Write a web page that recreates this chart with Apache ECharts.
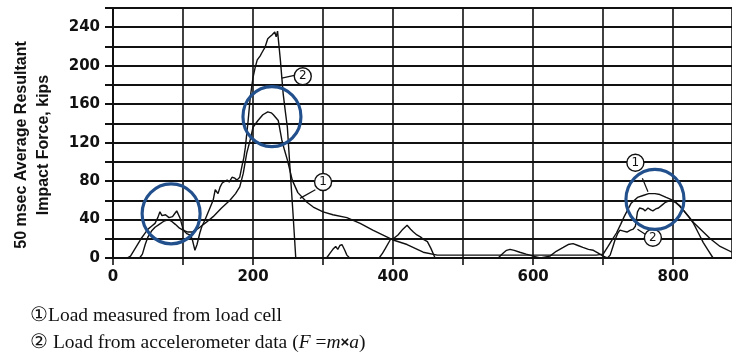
<!DOCTYPE html>
<html><head><meta charset="utf-8">
<script src="https://cdn.jsdelivr.net/npm/echarts@6/dist/echarts.min.js"></script>
<style>html,body{margin:0;padding:0;background:#fff}#c{width:732px;height:364px}</style>
</head><body><div id="c"></div>
<script>
// ---- data ----
const xTickLabels = [0, 200, 400, 600, 800];
const yTickLabels = [0, 40, 80, 120, 160, 200, 240];

// curve 1: load measured from load cell
const loadCellX = [0,20,38,42,46,50,55,60,66,72,79,84,89,95,100,107,113,118,124,133,143,155,167,175,181,186,191,196,200,207,214,221,226,229,236,241,245,249,256,264,277,286,300,314,334,353,371,399,420,443,463,500,550,600,650,690,700,707,713,719,725,730,740,749,757,765,774,781,790,800,810,820,829,839,853,867,884];
const loadCellY = [0,0,0,4,14,22,28,32,35,38,40,38,35,31,29,27,27,29,32,37,43,52,60,67,74,88,109,123,136,143,149,152,151,149,143,123,112,102,81,68,58,53,48,45,42,36,29,19,14,6,3,3,3,3,3,3,4,12,19,26,35,43,57,63,65,67,67,66,63,60,54,45,37,30,20,12,6];

// curve 2: load from accelerometer data
const accelX = [0,20,25,30,35,40,45,50,55,60,64,67,70,72,75,77,80,82,85,88,91,93,96,100,103,106,110,113,117,120,124,127,131,135,139,143,146,150,153,156,160,163,166,170,174,177,181,184,187,189,193,196,200,203,206,210,213,217,221,224,227,231,233,235,239,243,246,249,253,257,261,305,310,314,318,321,324,327,331,334,338,380,385,389,396,402,407,414,420,425,429,434,439,444,449,454,460,550,557,562,567,573,581,590,600,610,624,633,643,650,657,664,671,679,686,693,700,706,710,714,717,721,724,729,734,739,743,746,749,752,757,760,764,768,771,775,779,784,789,796,803,809,814,822,829,836,843,850,857,884];
const accelY = [0,0,2,8,14,20,25,30,33,36,42,48,44,42,45,46,42,40,43,46,49,47,41,30,27,25,24,20,8,14,26,33,39,46,53,60,71,67,74,78,80,81,79,84,83,81,84,95,105,115,143,167,188,198,206,210,214,219,228,230,232,235,230,236,206,171,153,136,91,47,0,0,5,9,12,9,13,14,8,3,0,0,5,10,19,21,24,30,34,30,27,24,22,19,17,10,0,0,5,8,9,8,6,4,2,0,2,7,11,14,15,13,11,9,8,5,2,0,3,12,19,26,29,28,27,29,30,33,48,52,51,49,52,50,49,51,52,55,58,60,58,54,50,43,36,26,16,8,0,0];

// numbered callouts on the curves
const calloutText = ['2', '1', '1', '2'];
const calloutX = [271, 300, 746, 771];
const calloutY = [189, 79, 99, 21];
const leaderFromX = [241, 267, 764, 749];
const leaderFromY = [187, 62, 69, 30];
const leaderToX = [259, 289, 756, 764];
const leaderToY = [190, 71, 83, 23];

// blue highlight rings
const ringX = [83, 227, 774];
const ringY = [46, 147, 61];

const yAxisTitle = ['50 msec Average Resultant', 'Impact Force, kips'];

// ---- chart ----
const zip = (xs, ys) => xs.map((x, i) => [x, ys[i]]);
const chart = echarts.init(document.getElementById('c'), null, {renderer: 'canvas'});
const gridColor = '#111';
const tickFont = {fontFamily: 'DejaVu Sans', fontWeight: 'bold', fontSize: 15, color: '#111'};

chart.setOption({
  animation: false,
  backgroundColor: '#fff',
  grid: {left: 113, right: 0, top: 8, bottom: 106, containLabel: false},
  xAxis: {
    type: 'value', min: 0, max: 884, interval: 100,
    axisLine: {show: true, onZero: false, lineStyle: {color: gridColor, width: 2}},
    axisTick: {show: true, length: 7, lineStyle: {color: gridColor, width: 1.6}},
    splitLine: {show: true, lineStyle: {color: gridColor, width: 1.6}},
    axisLabel: Object.assign({margin: 12, showMaxLabel: false,
      formatter: v => xTickLabels.includes(v) ? String(v) : ''}, tickFont)
  },
  yAxis: {
    type: 'value', min: 0, max: 260, interval: 20,
    axisLine: {show: true, lineStyle: {color: gridColor, width: 2}},
    axisTick: {show: true, length: 8, lineStyle: {color: gridColor, width: 2}},
    splitLine: {show: true, lineStyle: {color: gridColor, width: 2}},
    axisLabel: Object.assign({margin: 13,
      formatter: v => yTickLabels.includes(v) ? String(v) : ''}, tickFont)
  },
  series: [
    {type: 'line', data: zip(loadCellX, loadCellY), symbol: 'none', z: 3,
     lineStyle: {color: '#111', width: 1.4}},
    {type: 'line', data: zip(accelX, accelY), symbol: 'none', z: 3,
     lineStyle: {color: '#111', width: 1.4}},
    {type: 'lines', coordinateSystem: 'cartesian2d', z: 4, silent: true,
     lineStyle: {color: '#111', width: 1.2, opacity: 1},
     data: leaderFromX.map((x, i) => ({coords: [[x, leaderFromY[i]], [leaderToX[i], leaderToY[i]]]}))},
    {type: 'scatter', z: 5, silent: true, symbol: 'circle', symbolSize: 17,
     itemStyle: {color: '#fff', borderColor: '#111', borderWidth: 1.4, opacity: 1},
     label: {show: true, position: 'inside', color: '#111', fontFamily: 'DejaVu Sans',
       fontSize: 12, formatter: p => calloutText[p.dataIndex]},
     data: zip(calloutX, calloutY)},
    {type: 'scatter', z: 6, silent: true, symbol: 'circle', symbolSize: [58, 60],
     itemStyle: {color: 'rgba(0,0,0,0)', borderColor: '#22508C', borderWidth: 3.2, opacity: 1},
     data: zip(ringX, ringY)}
  ],
  graphic: [
    {type: 'text', x: 22, y: 145, rotation: Math.PI / 2, z: 10,
     style: {text: yAxisTitle[0], font: 'bold 16px "Liberation Sans", Arial, sans-serif',
       fill: '#111', textAlign: 'center', textVerticalAlign: 'middle'}},
    {type: 'text', x: 44, y: 145, rotation: Math.PI / 2, z: 10,
     style: {text: yAxisTitle[1], font: 'bold 16px "Liberation Sans", Arial, sans-serif',
       fill: '#111', textAlign: 'center', textVerticalAlign: 'middle'}},
    {type: 'text', x: 30, y: 316, z: 10,
     style: {text: '①Load measured from load cell',
       font: '19.5px "Liberation Serif", "Times New Roman", serif', fill: '#111',
       textAlign: 'left', textVerticalAlign: 'middle'}},
    {type: 'text', x: 30, y: 343, z: 10,
     style: {text: '② Load from accelerometer data ({i|F} ={i|m}{b|×}{i|a})',
       font: '19.5px "Liberation Serif", "Times New Roman", serif', fill: '#111',
       textAlign: 'left', textVerticalAlign: 'middle',
       rich: {
         i: {fontFamily: 'Liberation Serif', fontSize: 19.5, fontStyle: 'italic', fill: '#111'},
         b: {fontFamily: 'Liberation Sans', fontSize: 15, fontWeight: 'bold', fill: '#111'}
       }}}
  ]
});
</script></body></html>
